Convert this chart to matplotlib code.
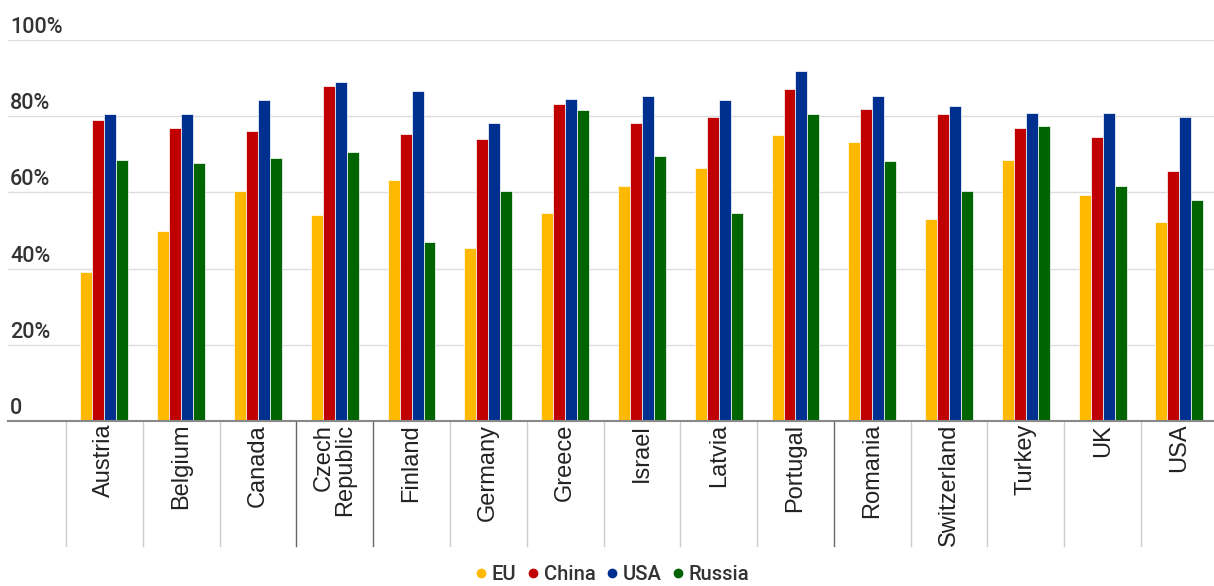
import numpy as np
from matplotlib import pyplot as plt
from matplotlib.lines import Line2D
import matplotlib.transforms as mtransforms

countries = ['Austria', 'Belgium', 'Canada', 'Czech\nRepublic', 'Finland', 'Germany', 'Greece',
             'Israel', 'Latvia', 'Portugal', 'Romania', 'Switzerland', 'Turkey', 'UK', 'USA']
eu = [39.1, 50.0, 60.3, 54.1, 63.2, 45.5, 54.6, 61.8, 66.4, 75.0, 73.3, 52.9, 68.4, 59.3, 52.2]
china = [78.9, 76.9, 76.1, 87.9, 75.2, 73.9, 83.3, 78.2, 79.9, 87.1, 81.9, 80.6, 76.8, 74.6, 65.5]
usa = [80.6, 80.5, 84.3, 89.1, 86.6, 78.3, 84.4, 85.3, 84.2, 91.9, 85.4, 82.8, 80.9, 80.8, 79.8]
russia = [68.4, 67.6, 69.0, 70.5, 46.9, 60.3, 81.6, 69.5, 54.6, 80.5, 68.3, 60.4, 77.4, 61.8, 57.9]

series = [('EU', eu, '#FFB900'), ('China', china, '#C00000'),
          ('USA', usa, '#00308F'), ('Russia', russia, '#006400')]
yticks = [0, 20, 40, 60, 80, 100]
ylabels = ['0', '20%', '40%', '60%', '80%', '100%']

W, H = 1214, 586
fig = plt.figure(figsize=(W / 100, H / 100), dpi=100)
# axes spans x 8..1214 px, y 40..421 px
ax = fig.add_axes([8 / W, (H - 421) / H, (W - 8) / W, (421 - 40) / H])

x = np.arange(len(countries))
bw = 0.156
for k, (name, vals, col) in enumerate(series):
    ax.bar(x + (k - 1.5) * bw, vals, width=bw, color=col, edgecolor='white', linewidth=0.5, zorder=3)

ax.set_xlim(-1.255, 14.45)
ax.set_ylim(0, 100)

# gridlines and y labels sitting above them
for v, lab in zip(yticks, ylabels):
    if v > 0:
        ax.axhline(v, color='#dddddd', linewidth=1, zorder=1)
    ax.annotate(lab, xy=(0, v), xycoords=ax.get_yaxis_transform(), xytext=(1.5, 5),
                textcoords='offset points', ha='left', va='baseline',
                fontsize=15.5, family='Roboto', weight='medium', color='#333333')
ax.axhline(0, color='#888888', linewidth=1.5, zorder=4, clip_on=False)

for s in ax.spines.values():
    s.set_visible(False)
ax.set_yticks([])

# category separators under the axis
trans = mtransforms.blended_transform_factory(ax.transData, ax.transAxes)
dark = {3, 4, 10}
for i in range(len(countries)):
    c = '#666666' if i in dark else '#cccccc'
    ax.plot([i - 0.5, i - 0.5], [0, -125 / 381], transform=trans, color=c, linewidth=1, clip_on=False)

ax.set_xticks(x)
ax.set_xticklabels(countries, rotation=90, fontsize=17, family='Liberation Sans', color='#222222',
                   linespacing=0.95)
for lbl in ax.get_xticklabels():
    lbl.set_multialignment('right')
ax.tick_params(axis='x', length=0, pad=2)

handles = [Line2D([], [], marker='o', linestyle='none', markersize=6, color=col, label=name)
           for name, vals, col in series]
fig.legend(handles=handles, loc='center', bbox_to_anchor=(610 / W, 1 - 575 / H), ncol=4, frameon=False,
           prop={'family': 'Roboto', 'size': 14.5, 'weight': 'medium'}, handletextpad=0.05,
           columnspacing=0.3, handlelength=1.0, labelcolor='#333333')

fig.savefig('out.png', dpi=100)
